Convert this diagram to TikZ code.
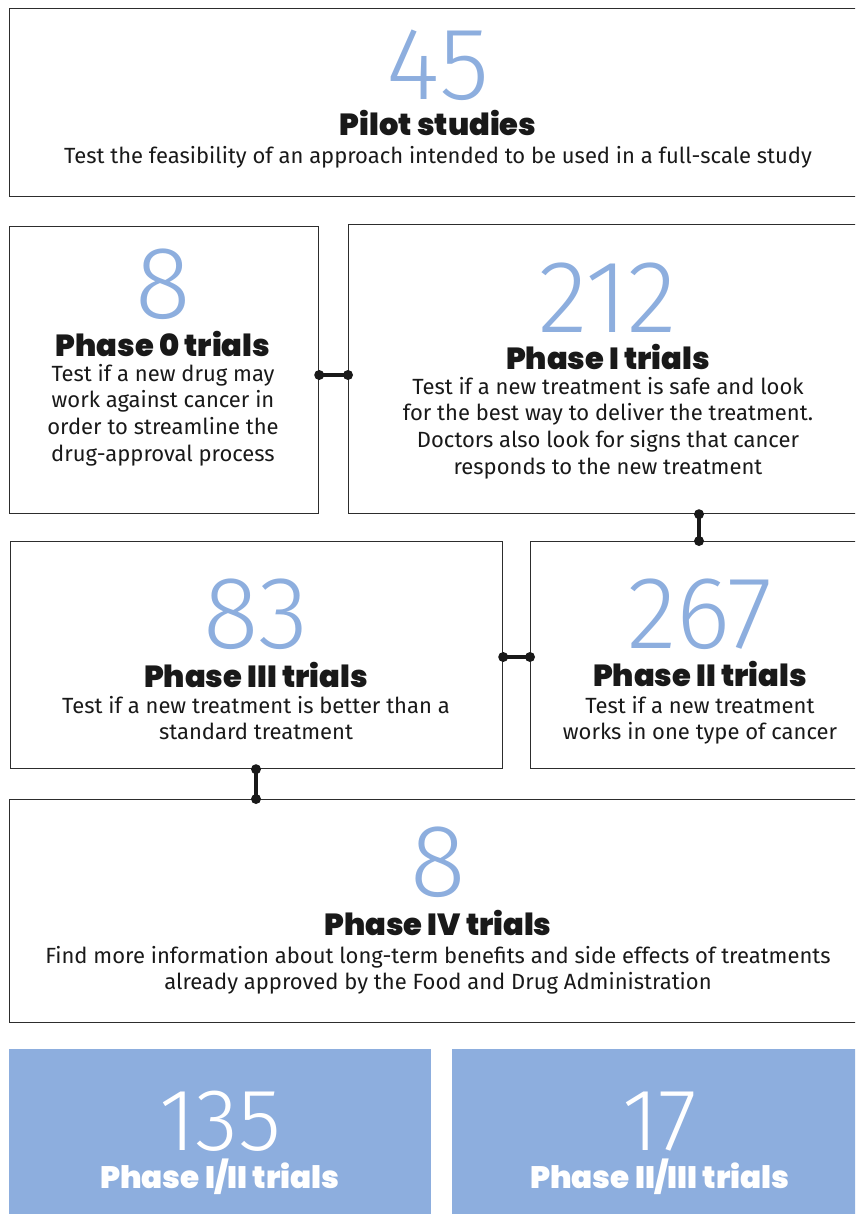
\documentclass[tikz,border=0pt]{standalone}
\usepackage{fontspec}
\setmainfont{Fira Sans}
\newfontfamily\ttlfont{Poppins Black}
\newfontfamily\numfont{Fira Sans Light}
\definecolor{bblue}{RGB}{141,174,222}
\definecolor{edge}{RGB}{45,45,45}
\definecolor{ink}{RGB}{25,25,25}
\tikzset{
  box/.style={draw=edge, line width=1.2pt, rectangle, inner sep=0pt, anchor=north west},
  bluebox/.style={fill=bblue, draw=none, rectangle, inner sep=0pt, anchor=north west},
  num/.style={anchor=base, inner sep=0pt, text depth=0pt, text=bblue, font=\numfont\fontsize{103}{103}\selectfont},
  wnum/.style={num, text=white, font=\numfont\fontsize{88}{88}\selectfont},
  ttl/.style={anchor=base, inner sep=0pt, text height=21pt, text depth=0pt, text=ink, font=\ttlfont\fontsize{30.5}{32}\selectfont},
  wttl/.style={ttl, text=white, font=\ttlfont\fontsize{31}{32}\selectfont},
  desc/.style={anchor=north, inner sep=0pt, text=ink, align=center, font=\fontsize{22}{26.6}\selectfont},
  link/.style={line width=3.5pt, draw=ink},
  dot/.style={circle, fill=ink, inner sep=0pt, minimum size=10pt}
}
\begin{document}
\begin{tikzpicture}[x=1pt,y=-1pt]
\useasboundingbox (0,0) rectangle (855,1214);
\clip (0,0) rectangle (855,1214);
% boxes
\node[box, minimum width=861pt, minimum height=188pt] (pilot) at (9,8) {};
\node[box, minimum width=309pt, minimum height=287pt] (p0) at (9,226) {};
\node[box, minimum width=522pt, minimum height=289pt] (p1) at (348,224) {};
\node[box, minimum width=492pt, minimum height=227pt] (p3) at (10,541) {};
\node[box, minimum width=340pt, minimum height=227pt] (p2) at (530,541) {};
\node[box, minimum width=861pt, minimum height=223pt] (p4) at (9,799) {};
\node[bluebox, minimum width=422pt, minimum height=175pt] (p12) at (9,1049) {};
\node[bluebox, minimum width=418pt, minimum height=175pt] (p23) at (452,1049) {};
% pilot
\node[num] (n45) at (438,100) {45};
\node[ttl] (t45) at (438,136) {Pilot studies};
\node[desc] (d45) at (438,146) {Test the feasibility of an approach intended to be used in a full-scale study};
% phase 0
\node[num] (n0) at (163,318) {8};
\node[ttl] (t0) at (163,356) {Phase 0 trials};
\node[desc] (d0) at (163,364) {Test if a new drug may\\work against cancer in\\order to streamline the\\drug-approval process};
% phase I
\node[num] (n1) at (608,332) {212};
\node[ttl] (t1) at (608,369) {Phase I trials};
\node[desc] (d1) at (608,377) {Test if a new treatment is safe and look\\for the best way to deliver the treatment.\\Doctors also look for signs that cancer\\responds to the new treatment};
% phase III
\node[num] (n3) at (256,648) {83};
\node[ttl] (t3) at (256,687) {Phase III trials};
\node[desc] (d3) at (256,696) {Test if a new treatment is better than a\\standard treatment};
% phase II
\node[num] (n2) at (700,648) {267};
\node[ttl] (t2) at (700,686) {Phase II trials};
\node[desc] (d2) at (700,696) {Test if a new treatment\\works in one type of cancer};
% phase IV
\node[num] (n4) at (438,896) {8};
\node[ttl] (t4) at (438,935) {Phase IV trials};
\node[desc] (d4) at (438,946) {Find more information about long-term benefits and side effects of treatments\\already approved by the Food and Drug Administration};
% combined
\node[wnum] (n12) at (220,1150) {135};
\node[wttl] (t12) at (220,1188) {Phase I/II trials};
\node[wnum] (n23) at (660,1150) {17};
\node[wttl] (t23) at (660,1188) {Phase II/III trials};
% connectors
\coordinate (c01a) at (p0.east |- 0,375);
\coordinate (c01b) at (p1.west |- 0,375);
\coordinate (c12a) at (p1.south -| 699,0);
\coordinate (c12b) at (p2.north -| 699,0);
\coordinate (c32a) at (p3.east |- 0,657);
\coordinate (c32b) at (p2.west |- 0,657);
\coordinate (c34a) at (p3.south -| 256,0);
\coordinate (c34b) at (p4.north -| 256,0);
\foreach \a/\b in {c01a/c01b, c12a/c12b, c32a/c32b, c34a/c34b}{
  \draw[link] (\a) -- (\b);
  \node[dot] at (\a) {};
  \node[dot] at (\b) {};
}
\end{tikzpicture}
\end{document}
